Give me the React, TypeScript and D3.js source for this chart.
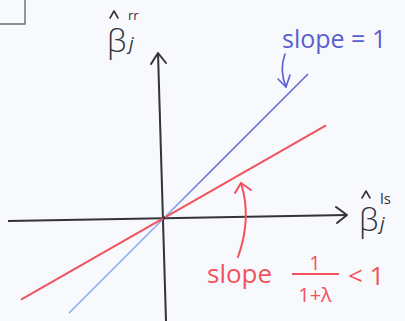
import React from "react";
import * as d3 from "d3";

// Ridge vs least-squares coefficient: ridge estimate shrinks by 1/(1+lambda)
const lambda = 0.75;
const identitySlope = 1;
const ridgeSlope = 1 / (1 + lambda);

// x-extent (in coefficient units) of each drawn line
const identityRange = [-0.95, 1.44];
const ridgeRange = [-1.43, 1.62];

// axes (hand-drawn, slightly tilted)
const xAxisEnds: [number, number][] = [[-1.56, -0.03], [1.83, 0.03]];
const yAxisEnds: [number, number][] = [[0.02, -1.03], [-0.06, 1.65]];

const W = 405;
const H = 321;

const x = d3.scaleLinear().domain([-1.56, 1.83]).range([8, 347]);
const y = d3.scaleLinear().domain([-1.03, 1.65]).range([321, 53]);

const font = "'Open Sans', 'DejaVu Sans', sans-serif";
const ink = "#333338";
const blue = "#5a5fd0";
const lightBlue = "#79a8f2";
const red = "#f2525d";

function lineFor(slope: number, range: number[]) {
  return d3.line<number>().x((v) => x(v)).y((v) => y(slope * v))(range) as string;
}

// small circumflex accent centred at (cx, cy)
function hat(cx: number, cy: number) {
  return `M${cx - 4},${cy + 4} L${cx},${cy - 3} L${cx + 4},${cy + 4}`;
}

export default function App() {
  const axisLine = d3.line<[number, number]>().x((d) => x(d[0])).y((d) => y(d[1]));
  const xTip = [x(xAxisEnds[1][0]), y(xAxisEnds[1][1])];
  const yTip = [x(yAxisEnds[1][0]), y(yAxisEnds[1][1])];
  const ox = x(0);
  const oy = y(0);

  return (
    <svg
      width={W}
      height={H}
      style={{ position: "fixed", left: 0, top: 0, background: "#f8f9fc" }}
    >
      <defs>
        <linearGradient id="idGrad" gradientUnits="userSpaceOnUse"
          x1={x(identityRange[0])} y1={y(identityRange[0])}
          x2={x(identityRange[1])} y2={y(identityRange[1])}>
          <stop offset="0" stopColor={lightBlue} />
          <stop offset="0.4" stopColor={lightBlue} />
          <stop offset="0.6" stopColor={blue} />
          <stop offset="1" stopColor={blue} />
        </linearGradient>
      </defs>

      {/* corner box */}
      <path d="M25,0 L25,24 L0,24" fill="none" stroke="#6a6d78" strokeWidth={1.4} />

      {/* axes */}
      <path d={axisLine(xAxisEnds) as string} stroke={ink} strokeWidth={2} fill="none" />
      <path d={axisLine(yAxisEnds) as string} stroke={ink} strokeWidth={2} fill="none" />
      <path
        d={`M${xTip[0] - 11},${xTip[1] - 8} L${xTip[0]},${xTip[1]} L${xTip[0] - 10},${xTip[1] + 8}`}
        stroke={ink} strokeWidth={2} fill="none" strokeLinejoin="round" strokeLinecap="round"
      />
      <path
        d={`M${yTip[0] - 7},${yTip[1] + 11} L${yTip[0]},${yTip[1]} L${yTip[0] + 8},${yTip[1] + 10}`}
        stroke={ink} strokeWidth={2} fill="none" strokeLinejoin="round" strokeLinecap="round"
      />

      {/* lines */}
      <path d={lineFor(identitySlope, identityRange)} stroke="url(#idGrad)" strokeWidth={1.5} fill="none" />
      <path d={lineFor(ridgeSlope, ridgeRange)} stroke={red} strokeWidth={2} fill="none" />
      <circle cx={ox} cy={oy} r={1.5} fill={ink} />

      {/* y-axis label: ridge coefficient */}
      <path d={hat(114, 14)} stroke={ink} strokeWidth={1.6} fill="none" strokeLinecap="round" strokeLinejoin="round" />
      <g fill={ink} fontFamily={font}>
        <text x={107} y={52} fontSize={32} fontWeight={300}>β</text>
        <text x={128} y={20} fontSize={13}>rr</text>
        <text x={129} y={50} fontSize={18} fontStyle="italic">j</text>
      </g>

      {/* x-axis label: least-squares coefficient */}
      <path d={hat(366, 194)} stroke={ink} strokeWidth={1.6} fill="none" strokeLinecap="round" strokeLinejoin="round" />
      <g fill={ink} fontFamily={font}>
        <text x={359} y={231} fontSize={32} fontWeight={300}>β</text>
        <text x={380} y={204} fontSize={15}>ls</text>
        <text x={380} y={230} fontSize={18} fontStyle="italic">j</text>
      </g>

      {/* identity annotation */}
      <text x={282} y={48} fontSize={25} fill={blue} fontFamily={font}>slope = 1</text>
      <path d="M285,54 Q279,70 286,87" stroke={blue} strokeWidth={1.6} fill="none" strokeLinecap="round" />
      <path d="M278,79 L286,87 L290,75" stroke={blue} strokeWidth={1.6} fill="none" strokeLinecap="round" strokeLinejoin="round" />

      {/* ridge annotation */}
      <path d="M238,257 Q252,218 241,183" stroke={red} strokeWidth={2} fill="none" strokeLinecap="round" />
      <path d="M235,193 L241,183 L251,190" stroke={red} strokeWidth={2} fill="none" strokeLinecap="round" strokeLinejoin="round" />
      <g fill={red} fontFamily={font}>
        <text x={207} y={283} fontSize={26}>slope</text>
        <text x={315} y={270} fontSize={20} textAnchor="middle">1</text>
        <line x1={292} x2={339} y1={274} y2={274} stroke={red} strokeWidth={1.8} />
        <text x={315} y={302} fontSize={20} textAnchor="middle">1+λ</text>
        <text x={348} y={285} fontSize={26}>&lt; 1</text>
      </g>
    </svg>
  );
}
